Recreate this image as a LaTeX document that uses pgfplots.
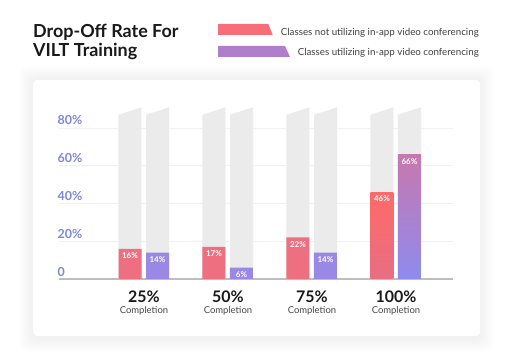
\documentclass[border=0pt]{standalone}
\usepackage{pgfplots}
\pgfplotsset{compat=1.18}
\usepackage{fontspec}
\setmainfont{Lato}
\definecolor{ticklab}{HTML}{7F87D9}
\definecolor{axisgray}{HTML}{BDBDBD}
\definecolor{gridgray}{HTML}{F1F1F1}
\definecolor{barbg}{HTML}{EBEBEB}
\definecolor{barred}{HTML}{EE6F80}
\definecolor{barpurple}{HTML}{9A88E5}
\definecolor{redtop}{HTML}{FF6A68}
\definecolor{redbot}{HTML}{E76F82}
\definecolor{purtop}{HTML}{C877AE}
\definecolor{purbot}{HTML}{8E8BEE}
\definecolor{legred}{HTML}{F86E78}
\definecolor{legpurple}{HTML}{AF7ECC}
\begin{document}
\begin{tikzpicture}
\path[use as bounding box] (0,0) rectangle (512bp,361bp);
\fill[white] (0,0) rectangle (512bp,361bp);
\foreach \i in {1,...,14}{
  \fill[black,opacity=0.005,rounded corners=8bp] ({33bp-\i*1bp},{25bp-\i*1bp-2bp}) rectangle ({480bp+\i*1bp},{281bp+\i*1bp});
}
\fill[white,rounded corners=4bp] (33bp,25bp) rectangle (480bp,281bp);
% title
\node[anchor=base west,inner sep=0,font=\fontsize{18}{20}\selectfont\bfseries,text=black!90] at (33bp,323.7bp) {Drop-Off Rate For};
\node[anchor=base west,inner sep=0,font=\fontsize{18}{20}\selectfont\bfseries,text=black!90] at (33bp,304.3bp) {VILT Training};
% legend
\fill[legred] (218bp,337bp) -- (268.3bp,337bp) -- (272.7bp,326bp) -- (218bp,326bp) -- cycle;
\fill[legpurple] (218bp,315bp) -- (285bp,315bp) -- (290bp,304bp) -- (218bp,304bp) -- cycle;
\node[anchor=base east,inner sep=0,font=\fontsize{9.8}{11}\selectfont,text=black!75] at (479bp,325.5bp) {Classes not utilizing in-app video conferencing};
\node[anchor=base east,inner sep=0,font=\fontsize{9.8}{11}\selectfont,text=black!75] at (479bp,305bp) {Classes utilizing in-app video conferencing};
\begin{axis}[
  at={(59bp,82bp)}, anchor=south west,
  width=394bp, height=188.75bp, scale only axis,
  xmin=-1.012, xmax=3.679, ymin=0, ymax=100,
  axis x line*=bottom, axis y line*=left,
  y axis line style={draw=none},
  x axis line style={draw=axisgray,line width=1.2bp,-},
  major tick length=0pt,
  ytick={0,20,40,60,80}, yticklabels={0,20\%,40\%,60\%,80\%},
  ymajorgrids, grid style={gridgray,line width=0.6bp},
  yticklabel style={anchor=base west,inner sep=0pt,text=ticklab,font=\fontsize{12.5}{13}\selectfont\bfseries,yshift=3bp,xshift=-1.5bp},
  xtick={0,1,2,3}, xticklabels={25\%,50\%,75\%,100\%},
  xticklabel style={anchor=base,inner sep=0pt,yshift=-23.3bp,font=\fontsize{16}{16}\selectfont\bfseries,text=black!90},
  extra x ticks={0,1,2,3}, extra x tick labels={Completion,Completion,Completion,Completion},
  extra x tick style={xticklabel style={yshift=-11bp,font=\fontsize{9.5}{10}\selectfont,text=black!72}},
  /pgf/number format/assume math mode=true,
  every node near coord/.append style={font=\fontsize{8}{9}\selectfont\bfseries,text=white,anchor=north,inner sep=0pt,yshift=-3.8bp},
]
% gray background bars
\addplot[fill=barbg,draw=none] coordinates {(-0.304,87)(-0.030,91)} \closedcycle;
\addplot[fill=barbg,draw=none] coordinates {(0.024,87)(0.298,91)} \closedcycle;
\addplot[fill=barbg,draw=none] coordinates {(0.696,87)(0.970,91)} \closedcycle;
\addplot[fill=barbg,draw=none] coordinates {(1.024,87)(1.298,91)} \closedcycle;
\addplot[fill=barbg,draw=none] coordinates {(1.696,87)(1.970,91)} \closedcycle;
\addplot[fill=barbg,draw=none] coordinates {(2.024,87)(2.298,91)} \closedcycle;
\addplot[fill=barbg,draw=none] coordinates {(2.696,87)(2.970,91)} \closedcycle;
\addplot[fill=barbg,draw=none] coordinates {(3.024,87)(3.298,91)} \closedcycle;
% bars
\addplot[ybar,bar width=23bp,bar shift=-14bp,fill=barred,draw=none] coordinates {(0,16)(1,17)(2,22)};
\addplot[ybar,bar width=23bp,bar shift=-14bp,draw=none,top color=redtop,bottom color=redbot] coordinates {(3,46)};
\addplot[ybar,bar width=23bp,bar shift=13.5bp,fill=barpurple,draw=none] coordinates {(0,14)(1,6)(2,14)};
\addplot[ybar,bar width=23bp,bar shift=13.5bp,draw=none,top color=purtop,bottom color=purbot] coordinates {(3,66)};
% value labels at the bar centres
\addplot[draw=none,mark=none,nodes near coords={\pgfmathprintnumber{\pgfplotspointmeta}\%},point meta=y] coordinates {(-0.1667,16)(0.8333,17)(1.8333,22)(2.8333,46)};
\addplot[draw=none,mark=none,nodes near coords={\pgfmathprintnumber{\pgfplotspointmeta}\%},point meta=y] coordinates {(0.1607,14)(1.1607,6)(2.1607,14)(3.1607,66)};
\end{axis}
\end{tikzpicture}
\end{document}
